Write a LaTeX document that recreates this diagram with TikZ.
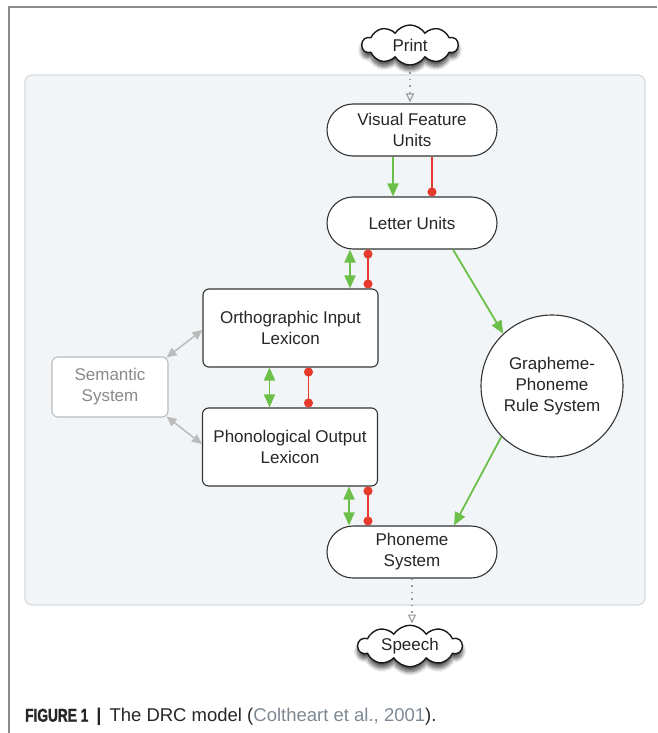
\documentclass[tikz,border=0pt]{standalone}
\usepackage{fontspec}
\setmainfont{Liberation Sans}
\newfontfamily\condbold[FakeStretch=0.74,FakeBold=1.5]{Liberation Sans Bold}
\usetikzlibrary{shapes.symbols,shapes.misc,shadows.blur,arrows.meta,calc}
\definecolor{panelfill}{HTML}{F2F5F7}
\definecolor{panelline}{HTML}{D9D9D9}
\definecolor{frameline}{HTML}{8C8C8C}
\definecolor{boxline}{HTML}{333333}
\definecolor{grn}{HTML}{6CC04A}
\definecolor{rd}{HTML}{E53A2C}
\definecolor{semgray}{HTML}{8A8A8A}
\definecolor{semline}{HTML}{BBBBBB}
\definecolor{dotgray}{HTML}{999999}
\definecolor{capgray}{HTML}{7D8893}
\begin{document}
\begin{tikzpicture}[x=1pt,y=-1pt,
  lbl/.style={font=\fontsize{17}{21}\selectfont, align=center, text=black!85},
  pill/.style={lbl, rounded rectangle, draw=boxline, line width=1.1pt, fill=white,
    minimum width=170pt, minimum height=52pt, inner sep=0pt},
  lexbox/.style={lbl, rectangle, rounded corners=6pt, draw=boxline, line width=1.1pt, fill=white,
    minimum width=175pt, minimum height=78pt, inner sep=0pt},
  cloudnode/.style={lbl, cloud, cloud puffs=10, cloud puff arc=115, draw=black!90, line width=1.4pt,
    fill=white, inner sep=0pt,
    blur shadow={shadow xshift=0pt, shadow yshift=-5pt, shadow blur steps=8, shadow opacity=70, shadow blur radius=4pt}},
  garrow/.style={draw=grn, line width=1.8pt, -{Triangle[width=11pt,length=13pt]}},
  gdouble/.style={draw=grn, line width=1.8pt, {Triangle[width=11pt,length=13pt]}-{Triangle[width=11pt,length=13pt]}},
  rdot/.style={draw=rd, line width=1.4pt, -{Circle[length=9pt]}},
  rdouble/.style={draw=rd, line width=1.4pt, {Circle[length=9pt]}-{Circle[length=9pt]}},
  semarrow/.style={draw=semline, line width=1.5pt, {Triangle[width=9pt,length=10pt]}-{Triangle[width=9pt,length=10pt]}},
  dotarrow/.style={draw=dotgray, line width=1.3pt, dash pattern=on 1.5pt off 5pt,
    -{Triangle[open,width=8pt,length=9pt,line width=1.1pt,sep=1pt]}}
]
\useasboundingbox (0,0) rectangle (657,733);
% outer frame
\draw[frameline, line width=1.2pt] (9,733) -- (9,7) -- (657,7);
% panel
\draw[fill=panelfill, draw=panelline, line width=1.2pt, rounded corners=7pt] (25,75) rectangle (645,605);

% nodes
\node[cloudnode, aspect=2.4, minimum width=96pt, minimum height=40pt] (print) at (410,45) {Print};
\node[pill] (vfu) at (412,130) {Visual Feature\\Units};
\node[pill] (lu) at (412,223) {Letter Units};
\node[lexbox] (oil) at (290.5,328) {Orthographic Input\\Lexicon};
\node[lexbox] (pol) at (290,447) {Phonological Output\\Lexicon};
\node[lbl, rectangle, rounded corners=6pt, draw=semline, line width=1.1pt, fill=white, text=semgray,
  minimum width=116pt, minimum height=60pt, inner sep=0pt] (sem) at (110,387) {Semantic\\System};
\node[lbl, circle, draw=boxline, line width=1.1pt, fill=white, minimum size=142pt, inner sep=0pt] (gpc) at (552,386)
  {Grapheme-\\Phoneme\\Rule System};
\node[pill] (ps) at (412,552) {Phoneme\\System};
\node[cloudnode, aspect=2.8, minimum width=104pt, minimum height=36pt] (speech) at (410,646) {Speech};

% caption
\node[anchor=west, inner sep=0pt, font=\fontsize{18.5}{21}\selectfont, text=black!85] (cap) at (25,717)
  {{\condbold FIGURE 1}\hspace{8pt}{\bfseries|}\hspace{8pt}The DRC model (\textcolor{capgray}{Coltheart et al., 2001}).};

% connectors
\draw[dotarrow] (print.south) -- (print.south |- vfu.north);
\draw[dotarrow] (ps.south) -- (ps.south |- speech.north);

\draw[garrow] ([xshift=-19pt]vfu.south) -- ([xshift=-19pt]lu.north);
\draw[rdot] ([xshift=20pt]vfu.south) -- ([xshift=20pt]lu.north);

\draw[gdouble] ([xshift=-62pt]lu.south) -- ([xshift=-62pt]lu.south |- oil.north);
\draw[rdouble] ([xshift=-44pt]lu.south) -- ([xshift=-44pt]lu.south |- oil.north);

\draw[gdouble] ([xshift=-21pt]oil.south) -- ([xshift=-21pt]oil.south |- pol.north);
\draw[rdouble] ([xshift=18pt]oil.south) -- ([xshift=18pt]oil.south |- pol.north);

\draw[gdouble] ([xshift=-63pt]ps.north |- pol.south) -- ([xshift=-63pt]ps.north);
\draw[rdouble] ([xshift=-44pt]ps.north |- pol.south) -- ([xshift=-44pt]ps.north);

\draw[garrow] ([xshift=41pt]lu.south) -- (gpc.133);
\draw[garrow] (gpc.225) -- ([xshift=42pt]ps.north);

\draw[semarrow] ([shift={(-2pt,-1pt)}]sem.north east) -- ([yshift=-2pt]oil.west);
\draw[semarrow] ([shift={(-2pt,1pt)}]sem.south east) -- ([yshift=3pt]pol.west);
\end{tikzpicture}
\end{document}
